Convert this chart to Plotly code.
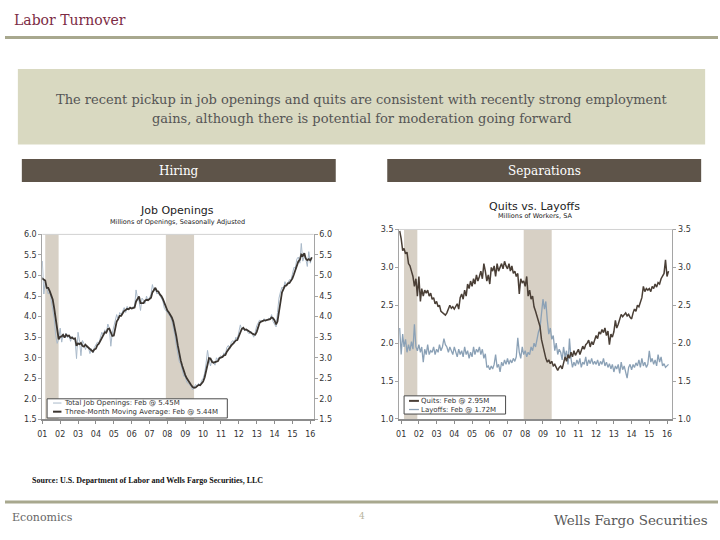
import plotly.graph_objects as go
import pandas as pd

# ---------------- data ----------------
DATES = pd.date_range("2000-12-01", periods=183, freq="MS")  # Dec 2000 .. Feb 2016

JOB_OPENINGS = [
    4.95,
    5.35, 4.55, 4.85, 4.70, 4.55, 4.62, 4.40, 4.25, 3.95, 3.55, 3.35, 3.45,
    3.72, 3.38, 3.58, 3.50, 3.60, 3.48, 3.55, 3.40, 3.52, 3.45, 3.45, 2.98,
    3.62, 3.40, 3.05, 3.42, 3.35, 3.20, 3.30, 3.25, 3.10, 3.22, 3.12, 3.25,
    3.30, 3.38, 3.35, 3.50, 3.62, 3.55, 3.68, 3.60, 3.82, 3.72, 3.28, 3.60,
    3.75, 3.85, 4.05, 3.92, 4.10, 4.05, 4.15, 4.22, 4.10, 4.25, 4.18, 4.22,
    4.20, 4.25, 4.22, 4.65, 4.45, 4.38, 4.15, 4.45, 4.40, 4.32, 4.50, 4.38,
    4.45, 4.55, 4.78, 4.62, 4.70, 4.55, 4.58, 4.50, 4.42, 4.38, 4.20, 4.15,
    4.10, 4.05, 4.00, 3.90, 3.75, 3.55, 3.30, 3.05, 2.90, 2.85, 2.65, 2.55,
    2.55, 2.40, 2.38, 2.35, 2.30, 2.22, 2.28, 2.35, 2.30, 2.38, 2.32, 2.45,
    2.50, 2.62, 2.85, 3.18, 2.95, 2.80, 2.95, 2.90, 2.82, 3.00, 2.95, 3.02,
    3.05, 3.00, 3.12, 3.08, 3.25, 3.30, 3.22, 3.38, 3.42, 3.35, 3.50, 3.45,
    3.62, 3.80, 3.68, 3.72, 3.65, 3.70, 3.62, 3.58, 3.65, 3.55, 3.50, 3.62,
    3.78, 3.85, 3.92, 3.88, 3.90, 3.95, 3.88, 3.92, 3.96, 3.94, 4.05, 3.88,
    3.80, 3.75, 4.10, 4.45, 4.60, 4.72, 4.68, 4.85, 4.75, 4.82, 4.90, 4.88,
    5.02, 5.20, 5.18, 5.40, 5.45, 5.30, 5.78, 5.35, 5.48, 5.40, 5.22, 5.58,
    5.30, 5.45,
]

JOB_OPENINGS_3MMA = [
    4.95,
    4.93, 4.90, 4.88, 4.70, 4.70, 4.62, 4.52, 4.42, 4.20, 3.92, 3.62, 3.45,
    3.51, 3.52, 3.56, 3.49, 3.56, 3.53, 3.54, 3.48, 3.49, 3.46, 3.47, 3.29,
    3.35, 3.33, 3.36, 3.29, 3.27, 3.32, 3.28, 3.25, 3.22, 3.19, 3.15, 3.20,
    3.22, 3.31, 3.34, 3.41, 3.49, 3.56, 3.62, 3.61, 3.70, 3.71, 3.61, 3.53,
    3.54, 3.73, 3.88, 3.94, 4.02, 4.02, 4.10, 4.14, 4.16, 4.19, 4.18, 4.22,
    4.20, 4.22, 4.22, 4.37, 4.44, 4.49, 4.33, 4.33, 4.33, 4.39, 4.41, 4.40,
    4.44, 4.46, 4.59, 4.65, 4.70, 4.62, 4.61, 4.54, 4.50, 4.43, 4.33, 4.24,
    4.15, 4.10, 4.05, 3.98, 3.88, 3.73, 3.53, 3.30, 3.08, 2.93, 2.80, 2.68,
    2.58, 2.50, 2.44, 2.38, 2.34, 2.29, 2.27, 2.28, 2.31, 2.34, 2.33, 2.38,
    2.42, 2.52, 2.66, 2.88, 2.99, 2.98, 2.90, 2.88, 2.89, 2.91, 2.92, 2.99,
    3.01, 3.02, 3.06, 3.07, 3.15, 3.21, 3.26, 3.30, 3.34, 3.38, 3.42, 3.43,
    3.52, 3.62, 3.70, 3.73, 3.68, 3.69, 3.66, 3.63, 3.62, 3.59, 3.57, 3.56,
    3.63, 3.75, 3.85, 3.88, 3.90, 3.91, 3.91, 3.92, 3.92, 3.94, 3.98, 3.96,
    3.91, 3.81, 3.88, 4.10, 4.38, 4.59, 4.67, 4.75, 4.76, 4.81, 4.82, 4.87,
    4.93, 5.03, 5.13, 5.26, 5.34, 5.38, 5.51, 5.48, 5.54, 5.41, 5.37, 5.40,
    5.37, 5.44,
]

QUITS = [
    3.48,
    3.38, 3.22, 3.25, 3.18, 3.20, 3.05, 3.02, 2.95, 2.88, 2.75, 2.85, 2.62,
    2.88, 2.55, 2.72, 2.62, 2.70, 2.66, 2.70, 2.62, 2.66, 2.58, 2.60, 2.52,
    2.55, 2.48, 2.50, 2.42, 2.40, 2.38, 2.37, 2.40, 2.45, 2.50, 2.46, 2.48,
    2.45, 2.48, 2.52, 2.45, 2.60, 2.65, 2.58, 2.70, 2.62, 2.78, 2.72, 2.82,
    2.75, 2.85, 2.78, 2.90, 2.82, 2.88, 2.95, 2.85, 3.05, 2.95, 2.82, 2.90,
    2.78, 3.00, 2.95, 3.02, 2.88, 3.05, 2.95, 3.00, 3.05, 2.98, 3.08, 3.02,
    2.98, 3.05, 2.95, 3.02, 2.92, 2.95, 2.88, 2.92, 2.65, 2.85, 2.80, 2.82,
    2.75, 2.88, 2.62, 2.70, 2.58, 2.62, 2.48, 2.42, 2.35, 2.30, 2.22, 2.05,
    1.95, 1.84, 1.80, 1.75, 1.78, 1.73, 1.76, 1.70, 1.72, 1.68, 1.64, 1.68,
    1.70, 1.66, 1.75, 1.82, 1.76, 1.85, 1.80, 1.88, 1.82, 1.90, 1.84, 1.88,
    1.92, 1.85, 1.90, 1.96, 1.92, 1.98, 2.00, 2.04, 1.95, 2.02, 1.98, 2.06,
    2.10, 2.06, 2.15, 2.12, 2.18, 2.14, 2.20, 2.10, 2.16, 1.98, 2.12, 2.08,
    2.15, 2.30, 2.20, 2.25, 2.32, 2.38, 2.35, 2.38, 2.40, 2.36, 2.38, 2.34,
    2.32, 2.40, 2.45, 2.42, 2.50, 2.48, 2.55, 2.60, 2.75, 2.68, 2.72, 2.70,
    2.72, 2.68, 2.75, 2.72, 2.78, 2.74, 2.80, 2.78, 2.85, 2.88, 2.92, 3.10,
    2.88, 2.95,
]

LAYOFFS = [
    2.20,
    1.85, 2.12, 1.95, 2.05, 1.88, 1.98, 1.90, 2.02, 1.92, 2.25, 1.95, 1.90,
    1.98, 1.88, 1.95, 1.75, 1.92, 1.85, 1.98, 1.85, 1.90, 1.88, 1.95, 1.85,
    1.92, 1.88, 1.98, 1.90, 1.95, 2.06, 1.98, 1.95, 1.88, 1.95, 1.90, 1.85,
    1.95, 1.88, 1.82, 1.92, 1.85, 1.90, 1.82, 1.95, 1.85, 1.90, 1.80, 1.88,
    1.82, 1.95, 1.85, 1.92, 1.88, 1.95, 1.85, 1.92, 1.80, 1.86, 1.68, 1.70,
    1.65, 1.70, 1.66, 1.72, 1.85, 1.68, 1.72, 1.62, 1.75, 1.70, 1.78, 1.72,
    1.80, 1.72, 1.78, 1.74, 1.80, 1.76, 1.82, 2.07, 1.88, 1.80, 1.95, 1.85,
    1.90, 1.82, 1.88, 1.85, 1.95, 1.90, 2.00, 1.95, 2.08, 2.15, 2.20, 2.35,
    2.58, 2.45, 2.55, 2.30, 2.12, 2.20, 2.05, 2.10, 1.90, 2.00, 1.85, 1.92,
    1.88, 1.78, 1.95, 1.82, 1.90, 1.72, 2.06, 1.80, 1.68, 1.75, 1.70, 1.78,
    1.72, 1.80, 1.68, 1.75, 1.72, 1.82, 1.70, 1.78, 1.73, 1.80, 1.72, 1.76,
    1.72, 1.78, 1.70, 1.76, 1.72, 1.80, 1.70, 1.75, 1.68, 1.73, 1.66, 1.72,
    1.62, 1.70, 1.66, 1.72, 1.60, 1.75, 1.65, 1.70, 1.62, 1.54, 1.68, 1.72,
    1.65, 1.72, 1.68, 1.74, 1.70, 1.78, 1.68, 1.80, 1.70, 1.75, 1.68, 1.72,
    1.90, 1.75, 1.80, 1.72, 1.78, 1.70, 1.85, 1.75, 1.82, 1.70, 1.73, 1.68,
    1.70, 1.72,
]

REC_START = ["2001-03-01", "2007-12-01"]
REC_END = ["2001-11-30", "2009-06-30"]

YEAR_TICKS = ["2001-01-01", "2002-01-01", "2003-01-01", "2004-01-01", "2005-01-01",
              "2006-01-01", "2007-01-01", "2008-01-01", "2009-01-01", "2010-01-01",
              "2011-01-01", "2012-01-01", "2013-01-01", "2014-01-01", "2015-01-01",
              "2016-01-01"]
YEAR_LABELS = ["01", "02", "03", "04", "05", "06", "07", "08", "09", "10",
               "11", "12", "13", "14", "15", "16"]

LEGEND_LEFT = ["Total Job Openings: Feb @ 5.45M", "Three-Month Moving Average: Feb @ 5.44M"]
LEGEND_RIGHT = ["Quits: Feb @ 2.95M", "Layoffs: Feb @ 1.72M"]

# ---------------- styles ----------------
W, H = 720, 540
def px(x): return x / W
def py(y): return 1 - y / H

C_TOTAL = "#a9b9c9"
C_MA = "#3b3530"
C_QUITS = "#4a3f36"
C_LAYOFFS = "#8ba1b6"
C_REC = "#d7d0c5"
C_RULE = "#a8a88e"
C_BOX = "#d9d9c1"
C_BAR = "#5e5449"
SERIF = "DejaVu Serif"
SANS = "DejaVu Sans"

fig = go.Figure()
fig.add_trace(go.Scatter(x=DATES, y=JOB_OPENINGS, xaxis="x", yaxis="y", mode="lines",
                         line=dict(color=C_TOTAL, width=1), name=LEGEND_LEFT[0], showlegend=False))
fig.add_trace(go.Scatter(x=DATES, y=JOB_OPENINGS_3MMA, xaxis="x", yaxis="y3", mode="lines",
                         line=dict(color=C_MA, width=1.8), name=LEGEND_LEFT[1], showlegend=False))
fig.add_trace(go.Scatter(x=DATES, y=LAYOFFS, xaxis="x2", yaxis="y2", mode="lines",
                         line=dict(color=C_LAYOFFS, width=1.3), name=LEGEND_RIGHT[1], showlegend=False))
fig.add_trace(go.Scatter(x=DATES, y=QUITS, xaxis="x2", yaxis="y4", mode="lines",
                         line=dict(color=C_QUITS, width=1.5), name=LEGEND_RIGHT[0], showlegend=False))

tickfont = dict(family=SANS, size=8, color="#333333")
xcommon = dict(type="date", showgrid=False, zeroline=False, showline=True, linecolor="#8c8c8c",
               linewidth=2, ticks="outside", ticklen=3, tickcolor="#8c8c8c", tickvals=YEAR_TICKS,
               ticktext=YEAR_LABELS, tickfont=tickfont, ticklabelstandoff=3, fixedrange=True)
ycommon = dict(showgrid=False, zeroline=False, showline=True, linecolor="#a5a5a5", linewidth=1,
               ticks="outside", ticklen=3, tickcolor="#a5a5a5", tickformat=".1f", dtick=0.5,
               tickfont=tickfont, fixedrange=True)

L_DOM_X = [px(37.7), px(311.7)]
L_DOM_Y = [py(422.5), py(234.3)]
R_DOM_X = [px(398), px(674)]
R_DOM_Y = [py(422), py(229.3)]

fig.update_layout(
    width=W, height=H, margin=dict(l=0, r=0, t=0, b=0),
    paper_bgcolor="white", plot_bgcolor="rgba(0,0,0,0)", showlegend=False,
    xaxis=dict(domain=L_DOM_X, range=["2001-01-01", "2016-03-10"], anchor="y", **xcommon),
    yaxis=dict(domain=L_DOM_Y, range=[1.5, 6.0], anchor="x", tick0=1.5, **ycommon),
    yaxis3=dict(range=[1.5, 6.0], overlaying="y", side="right", anchor="x", tick0=1.5, **ycommon),
    xaxis2=dict(domain=R_DOM_X, range=["2000-11-20", "2016-04-22"], anchor="y2", **xcommon),
    yaxis2=dict(domain=R_DOM_Y, range=[1.0, 3.5], anchor="x2", tick0=1.0, **ycommon),
    yaxis4=dict(range=[1.0, 3.5], overlaying="y2", side="right", anchor="x2", tick0=1.0, **ycommon),
)

shapes = []
# recession shading
for xr, yr in (("x", "y domain"), ("x2", "y2 domain")):
    for s, e in zip(REC_START, REC_END):
        shapes.append(dict(type="rect", xref=xr, yref=yr, x0=s, x1=e, y0=0, y1=1,
                           fillcolor=C_REC, line=dict(width=0), layer="below"))
    # light top border of plot
    shapes.append(dict(type="line", xref=xr + " domain", yref=yr, x0=0, x1=1, y0=1, y1=1,
                       line=dict(color="#d2d2d2", width=1)))

# slide decorations
shapes += [
    dict(type="line", xref="paper", yref="paper", x0=0, x1=1, y0=py(34), y1=py(34),
         line=dict(color=C_RULE, width=3)),
    dict(type="line", xref="paper", yref="paper", x0=0, x1=1, y0=py(506.5), y1=py(506.5),
         line=dict(color=C_RULE, width=3)),
    dict(type="rect", xref="paper", yref="paper", x0=px(13), x1=px(707), y0=py(143), y1=py(66),
         fillcolor=C_BOX, line=dict(width=0), layer="below"),
    dict(type="rect", xref="paper", yref="paper", x0=px(17), x1=px(334), y0=py(181), y1=py(157.5),
         fillcolor=C_BAR, line=dict(width=0), layer="below"),
    dict(type="rect", xref="paper", yref="paper", x0=px(386), x1=px(703), y0=py(181), y1=py(157.5),
         fillcolor=C_BAR, line=dict(width=0), layer="below"),
]

# legend boxes (drawn manually to match compact style)
def legend(x0, x1, y0, y1, rows, colors, widths, lx0, lx1):
    out_shapes = [dict(type="rect", xref="paper", yref="paper", x0=px(x0), x1=px(x1),
                       y0=py(y1), y1=py(y0), fillcolor="white", line=dict(color="#4a4a4a", width=1))]
    out_ann = []
    for (ry, label), c, w in zip(rows, colors, widths):
        out_shapes.append(dict(type="line", xref="paper", yref="paper", x0=px(lx0), x1=px(lx1),
                               y0=py(ry), y1=py(ry), line=dict(color=c, width=w)))
        out_ann.append(dict(xref="paper", yref="paper", x=px(lx1 + 0.5), y=py(ry), text=label,
                            showarrow=False, xanchor="left", yanchor="middle",
                            font=dict(family=SANS, size=7, color="#333333")))
    return out_shapes, out_ann

ls, la = legend(42.5, 224.5, 401.5, 421, [(405.8, LEGEND_LEFT[0]), (414.6, LEGEND_LEFT[1])],
                [C_TOTAL, C_MA], [1, 2], 48.5, 57)
rs, ra = legend(403, 505.5, 398.5, 417, [(403.6, LEGEND_RIGHT[0]), (412.4, LEGEND_RIGHT[1])],
                [C_QUITS, C_LAYOFFS], [2, 1.3], 408, 418)
shapes += ls + rs

annotations = [
    dict(x=px(7), y=py(16), text="Labor Turnover", xanchor="left", yanchor="middle",
         font=dict(family=SERIF, size=14, color="#7c2b44")),
    dict(x=px(360), y=py(97), text="The recent pickup in job openings and quits are consistent with recently strong employment",
         xanchor="center", yanchor="middle", font=dict(family=SERIF, size=13, color="#555555")),
    dict(x=px(360), y=py(116), text="gains, although there is potential for moderation going forward",
         xanchor="center", yanchor="middle", font=dict(family=SERIF, size=13, color="#555555")),
    dict(x=px(175.5), y=py(169.5), text="Hiring", xanchor="center", yanchor="middle",
         font=dict(family=SERIF, size=12, color="white")),
    dict(x=px(544.5), y=py(169.5), text="Separations", xanchor="center", yanchor="middle",
         font=dict(family=SERIF, size=12, color="white")),
    dict(x=px(174), y=py(210), text="Job Openings", xanchor="center", yanchor="middle",
         font=dict(family=SANS, size=11, color="#222222")),
    dict(x=px(174), y=py(221.5), text="Millions of Openings, Seasonally Adjusted", xanchor="center",
         yanchor="middle", font=dict(family=SANS, size=6.5, color="#222222")),
    dict(x=px(535), y=py(206), text="Quits vs. Layoffs", xanchor="center", yanchor="middle",
         font=dict(family=SANS, size=11, color="#222222")),
    dict(x=px(535), y=py(215.8), text="Millions of Workers, SA", xanchor="center",
         yanchor="middle", font=dict(family=SANS, size=6.5, color="#222222")),
    dict(x=px(25), y=py(484.5), text="<b>Source: U.S. Department of Labor and Wells Fargo Securities, LLC</b>",
         xanchor="left", yanchor="middle", font=dict(family="Liberation Serif", size=8, color="#111111")),
    dict(x=px(5), y=py(522), text="Economics", xanchor="left", yanchor="middle",
         font=dict(family=SERIF, size=11, color="#666666")),
    dict(x=px(361), y=py(521), text="4", xanchor="center", yanchor="middle",
         font=dict(family=SERIF, size=9, color="#b8b39c")),
    dict(x=px(712), y=py(525), text="Wells Fargo Securities", xanchor="right", yanchor="middle",
         font=dict(family=SERIF, size=13.5, color="#5a5a5a")),
]
for a in annotations:
    a.setdefault("xref", "paper")
    a.setdefault("yref", "paper")
    a.setdefault("showarrow", False)
annotations += la + ra

fig.update_layout(shapes=shapes, annotations=annotations)
fig.write_html("out.html", config={"displayModeBar": False, "staticPlot": True},
               post_script="document.body.style.margin='0px';document.body.style.overflow='hidden';")
